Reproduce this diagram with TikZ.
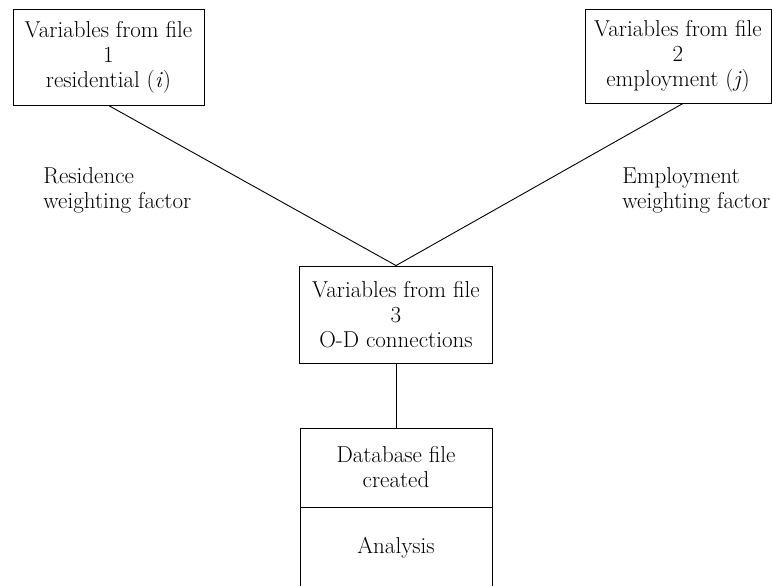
\documentclass[tikz,border=0pt]{standalone}
\usetikzlibrary{positioning}
\begin{document}
\begin{tikzpicture}[x=1pt,y=-1pt,line width=0.9pt,
    filebox/.style={draw,align=center,inner sep=0pt,font=\fontsize{23}{25}\selectfont},
    factortext/.style={align=left,inner sep=0pt,anchor=north west,font=\fontsize{23}{25}\selectfont}]
    %%%%% START %%%%%
    \clip (0,0) rectangle (772,586);

    \node[filebox,minimum width=191pt,minimum height=96pt] (file1) at (108.5,57) {Variables from file\\1\\residential (\textit{i})};
    \node[filebox,minimum width=186pt,minimum height=94pt] (file2) at (678,56) {Variables from file\\2\\employment (\textit{j})};
    \node[filebox,minimum width=193pt,minimum height=97pt] (file3) at (396,314.5) {Variables from file\\3\\O-D connections};

    \node[filebox,minimum width=192pt,minimum height=79pt] (db) at (396,467.5) {Database file\\created};
    \node[filebox,minimum width=192pt,minimum height=82pt] (ana) at (396,548) {Analysis};

    \node[factortext] (resw) at (43,167) {Residence\\weighting factor};
    \node[factortext] (empw) at (622,167) {Employment\\weighting factor};

    \draw (file1.south) -- (file3.north);
    \draw ([xshift=5pt]file2.south) -- (file3.north);
    \draw (file3.south) -- (db.north);
    %%%%% END %%%%%
\end{tikzpicture}
\end{document}
